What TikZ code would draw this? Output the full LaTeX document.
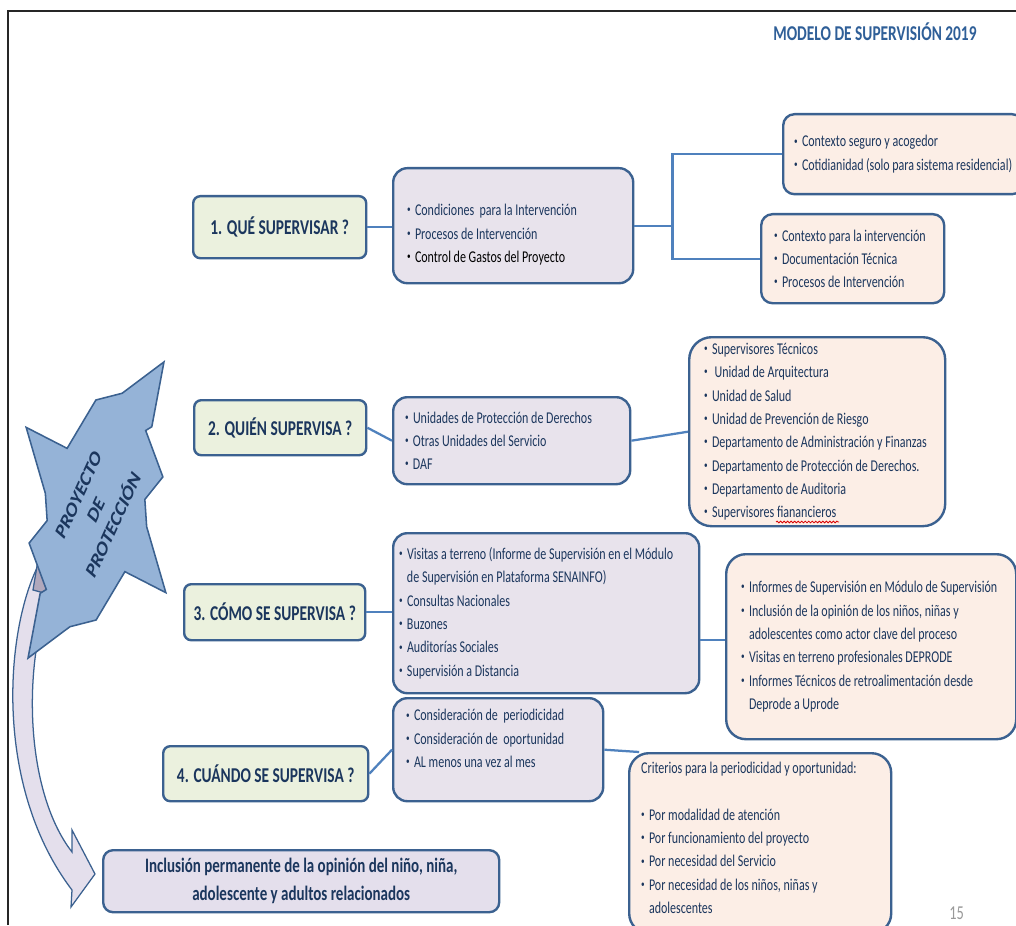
\documentclass[tikz,border=0pt]{standalone}
\usepackage{fontspec}
\setmainfont{Carlito}[FakeStretch=0.73]
\newfontfamily\starfont{Carlito}
\usetikzlibrary{decorations.pathmorphing}
\definecolor{snnavy}{HTML}{1B365D}
\definecolor{snedge}{HTML}{3B6190}
\definecolor{snlink}{HTML}{4F81BD}
\definecolor{snask}{HTML}{EBF1DE}
\definecolor{snlist}{HTML}{E8E3EC}
\definecolor{sndet}{HTML}{FCEEE6}
\definecolor{snfin}{HTML}{E4DFEC}
\definecolor{snstar}{HTML}{95B3D7}
\definecolor{sngray}{HTML}{B1A8BC}
\definecolor{sntitle}{HTML}{2F5F98}
\newcommand{\itm}{{\fontsize{7}{7}\selectfont\raisebox{2pt}{\textbullet}}\hspace{3pt}}
\newcommand{\cnt}{\phantom{\itm}}

\begin{document}
\begin{tikzpicture}[x=0.025cm,y=-0.025cm,
  font=\fontsize{11.7}{16.6}\selectfont,
  box/.style n args={3}{minimum width=#1*0.025cm,minimum height=#2*0.025cm,inner xsep=#3*0.025cm,text width=(#1-2*#3)*0.025cm},
  base/.style={draw=snedge,line width=1.7pt,text=snnavy,inner ysep=0pt,anchor=north west},
  ask/.style={base,fill=snask,rounded corners=5pt,align=flush center,font=\fontsize{15}{18}\selectfont\bfseries},
  lst/.style={base,fill=snlist,rounded corners=10pt,align=flush left},
  det/.style={base,fill=sndet,align=flush left},
  link/.style={draw=snlink,line width=1.6pt}
]
\useasboundingbox (0,0) rectangle (1016,925);
\fill[white] (0,0) rectangle (1016,925);
% marco
\draw[line width=2pt,black!85] (8,925) -- (8,11) -- (1016,11);
\node[anchor=base west,inner sep=0pt,text=sntitle,font=\fontsize{15}{18}\selectfont\bfseries] (title) at (773,41) {MODELO DE SUPERVISIÓN 2019};
\node[anchor=base west,inner sep=0pt,text=black!40,font=\fontsize{14}{16}\selectfont] (pnum) at (949,919) {15};

% flecha curva
\filldraw[draw=snedge,line width=0.9pt,fill=snfin] (36,570) .. controls (4,640) and (-4,790) .. (72,890) -- (71,907) -- (95,874) -- (72,830) -- (72,852) .. controls (24,790) and (22,660) .. (53,586) -- cycle;
\filldraw[draw=snedge,line width=0.9pt,fill=sngray] (37,566) -- (55,573) -- (48,594) -- (33,590) -- cycle;
% estrella
\begin{scope}[shift={(96,510)},x={(0.010425cm,0.0227cm)},y={(0.0227cm,-0.010425cm)}]
\filldraw[draw=snedge,line width=1.1pt,fill=snstar] (163,0) -- (99,16) -- (93,12) -- (58,47) -- (30,40) -- (6,53) -- (-46,98) -- (-44,52) -- (-100,46) -- (-117,25) -- (-163,0) -- (-99,-16) -- (-93,-12) -- (-58,-47) -- (-30,-40) -- (-6,-53) -- (46,-98) -- (44,-52) -- (100,-46) -- (117,-25) -- cycle;
\end{scope}
\begin{scope}[shift={(96,510)},xscale=0.73,rotate=57.8]
\node[transform shape,align=center,text=snnavy,font=\starfont\fontsize{16}{20}\selectfont\bfseries] (proj) at (0,0) {PROYECTO\\DE\\PROTECCIÓN};
\end{scope}

% preguntas
\node[ask,box={173}{62}{4}] (q1) at (192,195) {1. QUÉ SUPERVISAR ?};
\node[ask,box={172}{55}{4}] (q2) at (193,399) {2. QUIÉN SUPERVISA ?};
\node[ask,box={181}{56}{4}] (q3) at (183,583) {3. CÓMO SE SUPERVISA ?};
\node[ask,box={205}{55}{4}] (q4) at (162,745) {4. CUÁNDO SE SUPERVISA ?};

% respuestas
\node[lst,box={240}{115}{14}] (a1) at (392,167) {\rule{0pt}{21pt}\itm Condiciones~ para la Intervención\\ \itm Procesos de Intervención\\ {\color{black}\itm Control de Gastos del Proyecto}};
\node[lst,box={237}{87}{12}] (a2) at (392,396) {\itm Unidades de Protección de Derechos\\ \itm Otras Unidades del Servicio\\ \itm DAF};
\node[lst,box={306}{160}{6}] (a3) at (392,532) {\itm Visitas a terreno (Informe de Supervisión en el Módulo\\ \cnt de Supervisión en Plataforma SENAINFO)\\ \itm Consultas Nacionales\\ \itm Buzones\\ \itm Auditorías Sociales\\ \itm Supervisión a Distancia};
\node[lst,box={210}{103}{13}] (a4) at (392,697) {\itm Consideración de~ periodicidad\\ \itm Consideración de~ oportunidad\\ \itm AL menos una vez al mes\rule[-16pt]{0pt}{16pt}};

% detalle
\node[det,rounded corners=8pt,box={240}{80}{11}] (b1a) at (782,113) {\itm Contexto seguro y acogedor\\ \itm Cotidianidad (solo para sistema residencial)};
\node[det,rounded corners=8pt,box={183}{89}{13}] (b1b) at (760,213) {\itm Contexto para la intervención\\ \itm Documentación Técnica\\ \itm Procesos de Intervención};
\node[det,rounded corners=16pt,box={256}{189}{15}] (b2) at (688,336) {\itm Supervisores Técnicos\\ \itm\ Unidad de Arquitectura\\ \itm Unidad de Salud\\ \itm Unidad de Prevención de Riesgo\\ \itm Departamento de Administración y Finanzas\\ \itm Departamento de Protección de Derechos.\\ \itm Departamento de Auditoria\\ \itm Supervisores fianancieros};
\node[det,rounded corners=14pt,box={290}{185}{15}] (b3) at (725,553) {\itm Informes de Supervisión en Módulo de Supervisión\\ \itm Inclusión de la opinión de los niños, niñas y\\ \cnt adolescentes como actor clave del proceso\\ \itm Visitas en terreno profesionales DEPRODE\\ \itm Informes Técnicos de retroalimentación desde\\ \cnt Deprode a Uprode};
\node[det,rounded corners=14pt,box={262}{180}{12}] (c4) at (628,752) {Criterios para la periodicidad y oportunidad:\\[16.6pt] \itm Por modalidad de atención\\ \itm Por funcionamiento del proyecto\\ \itm Por necesidad del Servicio\\ \itm Por necesidad de los niños, niñas y\\ \cnt adolescentes\rule[-7.6pt]{0pt}{7.6pt}};

\node[base,fill=snfin,rounded corners=7pt,box={396}{62}{10},align=flush center,font=\fontsize{14.6}{20}\selectfont\bfseries] (fin) at (102,849) {Inclusión permanente de la opinión del niño, niña,\\adolescente y adultos relacionados};

\draw[red!85!black,line width=0.6pt,decorate,decoration={snake,amplitude=0.6pt,segment length=2.5pt}] (776,522) -- (839,522);

% conectores
\path (a1.east) ++(38,0) coordinate (fork);
\draw[link] (q1.east) -- (q1.east -| a1.west);
\draw[link] (a1.east) -- (fork);
\draw[link] (b1a.west) -| (fork) |- (b1b.west);
\draw[link] (q2.east) -- (a2.west);
\draw[link] (a2.east) -- (b2.west);
\draw[link] (q3.east) -- (q3.east -| a3.west);
\draw[link] ([yshift=5pt]b3.west) -- ([yshift=5pt]b3.west -| a3.east);
\draw[link] (q4.east) -- (a4.west);
\draw[link] (a4.east) -- (c4.143);
\end{tikzpicture}
\end{document}
